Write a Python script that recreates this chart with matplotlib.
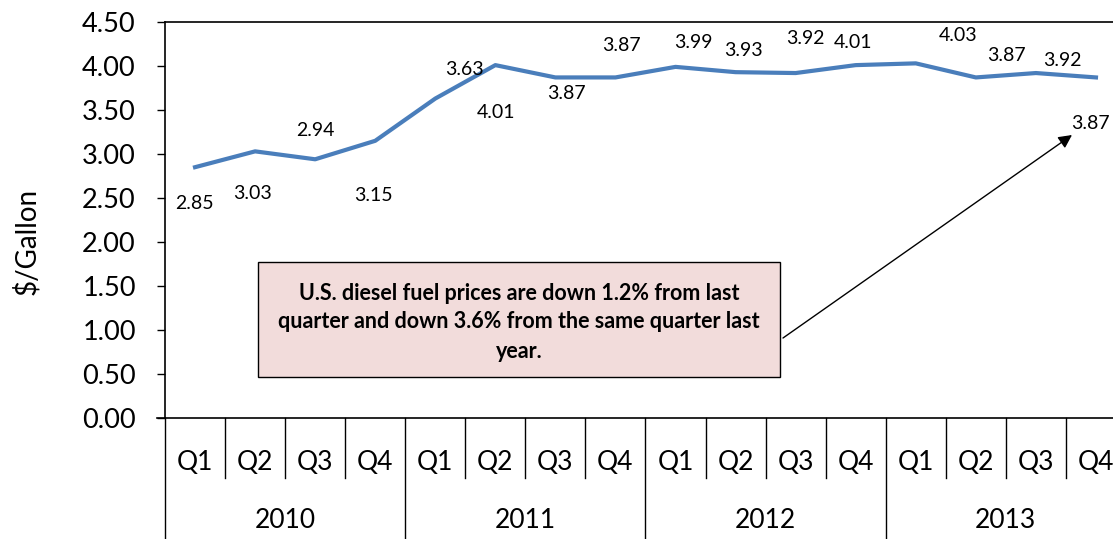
import matplotlib
matplotlib.use('Agg')
import matplotlib.pyplot as plt
import numpy as np
from matplotlib.transforms import blended_transform_factory
from matplotlib.patches import Rectangle
from matplotlib.lines import Line2D

# ---- data ----
years = ['2010', '2011', '2012', '2013']
quarters = ['Q1', 'Q2', 'Q3', 'Q4']
prices = [2.85, 3.03, 2.94, 3.15, 3.63, 4.01, 3.87, 3.87,
          3.99, 3.93, 3.92, 4.01, 4.03, 3.87, 3.92, 3.87]
y_ticks = [0.0, 0.5, 1.0, 1.5, 2.0, 2.5, 3.0, 3.5, 4.0, 4.5]
y_label = '$/Gallon'
note_lines = ['U.S. diesel fuel prices are down 1.2% from last',
              'quarter and down 3.6% from the same quarter last',
              'year.']

# label placement offsets (pixels, dx right, dy down) - layout only
label_offsets = [(-1, 36), (-3, 42), (0, -29), (-2, 55), (29, -29), (1, 47),
                 (11, 16), (6, -32), (18, -24), (8, -22), (10, -35), (-3, -23),
                 (42, -28), (31, -22), (26, -13), (-6, 46)]

plt.rcParams['font.family'] = ['Lato', 'DejaVu Sans']

W, H = 1113, 539
fig = plt.figure(figsize=(W / 100, H / 100), dpi=100)
ax = fig.add_axes([165 / W, 1 - 418 / H, (1126 - 165) / W, (418 - 22) / H])

n = len(prices)
x = np.arange(n) + 0.5
ax.plot(x, prices, color='#4A7EBB', lw=3.0, solid_joinstyle='round')

for xi, v, (dx, dy) in zip(x, prices, label_offsets):
    ax.annotate(f'{v:.2f}', xy=(xi, v), xytext=(dx, -dy), textcoords='offset pixels',
                ha='center', va='center', fontsize=14, color='black')

ax.set_xlim(0, n)
ax.set_ylim(0, 4.5)
ax.set_yticks(y_ticks)
ax.set_yticklabels([f'{t:.2f}' for t in y_ticks], fontsize=19.5)
ax.tick_params(axis='y', direction='out', length=6, width=1, pad=15)
ax.set_xticks([])
for s in ['left', 'top', 'bottom']:
    ax.spines[s].set_linewidth(1.2)
ax.spines['right'].set_visible(False)

fig.text(26 / W, 1 - 241 / H, y_label, rotation=90, ha='center', va='center', fontsize=20)

# multi-level category axis
trans = blended_transform_factory(ax.transData, fig.transFigure)
y_axis = 1 - 418 / H
for i, xi in enumerate(x):
    ax.text(xi, 1 - 463 / H, quarters[i % 4], transform=trans, ha='center', va='center',
            fontsize=19, clip_on=False)
for k in range(0, n + 1):
    if k % 4 == 0:
        yb = 0.0
    else:
        yb = 1 - 478 / H
    fig.add_artist(Line2D([k, k], [y_axis, yb], transform=trans, color='black', lw=1))
for j, yr in enumerate(years):
    ax.text(4 * j + 2, 1 - 520 / H, yr, transform=trans, ha='center', va='center',
            fontsize=19, clip_on=False)
# left tick below axis
fig.add_artist(Line2D([157 / W, 165 / W], [y_axis, y_axis], transform=fig.transFigure,
                      color='black', lw=1.2))

# annotation box
fig.add_artist(Rectangle((258 / W, 1 - 377 / H), 522 / W, 115 / H, transform=fig.transFigure,
                         facecolor='#F2DCDB', edgecolor='black', lw=1))
for line, yy in zip(note_lines, [293, 322, 351]):
    fig.text(519 / W, 1 - yy / H, line, ha='center', va='center', fontsize=15.5,
             fontweight='bold')

ax.annotate('', xy=(1072 / W, 1 - 135 / H), xycoords='figure fraction',
            xytext=(783 / W, 1 - 338 / H), textcoords='figure fraction',
            arrowprops=dict(arrowstyle='-|>', color='black', lw=1, mutation_scale=20,
                            shrinkA=0, shrinkB=0))

fig.savefig('out.png', dpi=100)
